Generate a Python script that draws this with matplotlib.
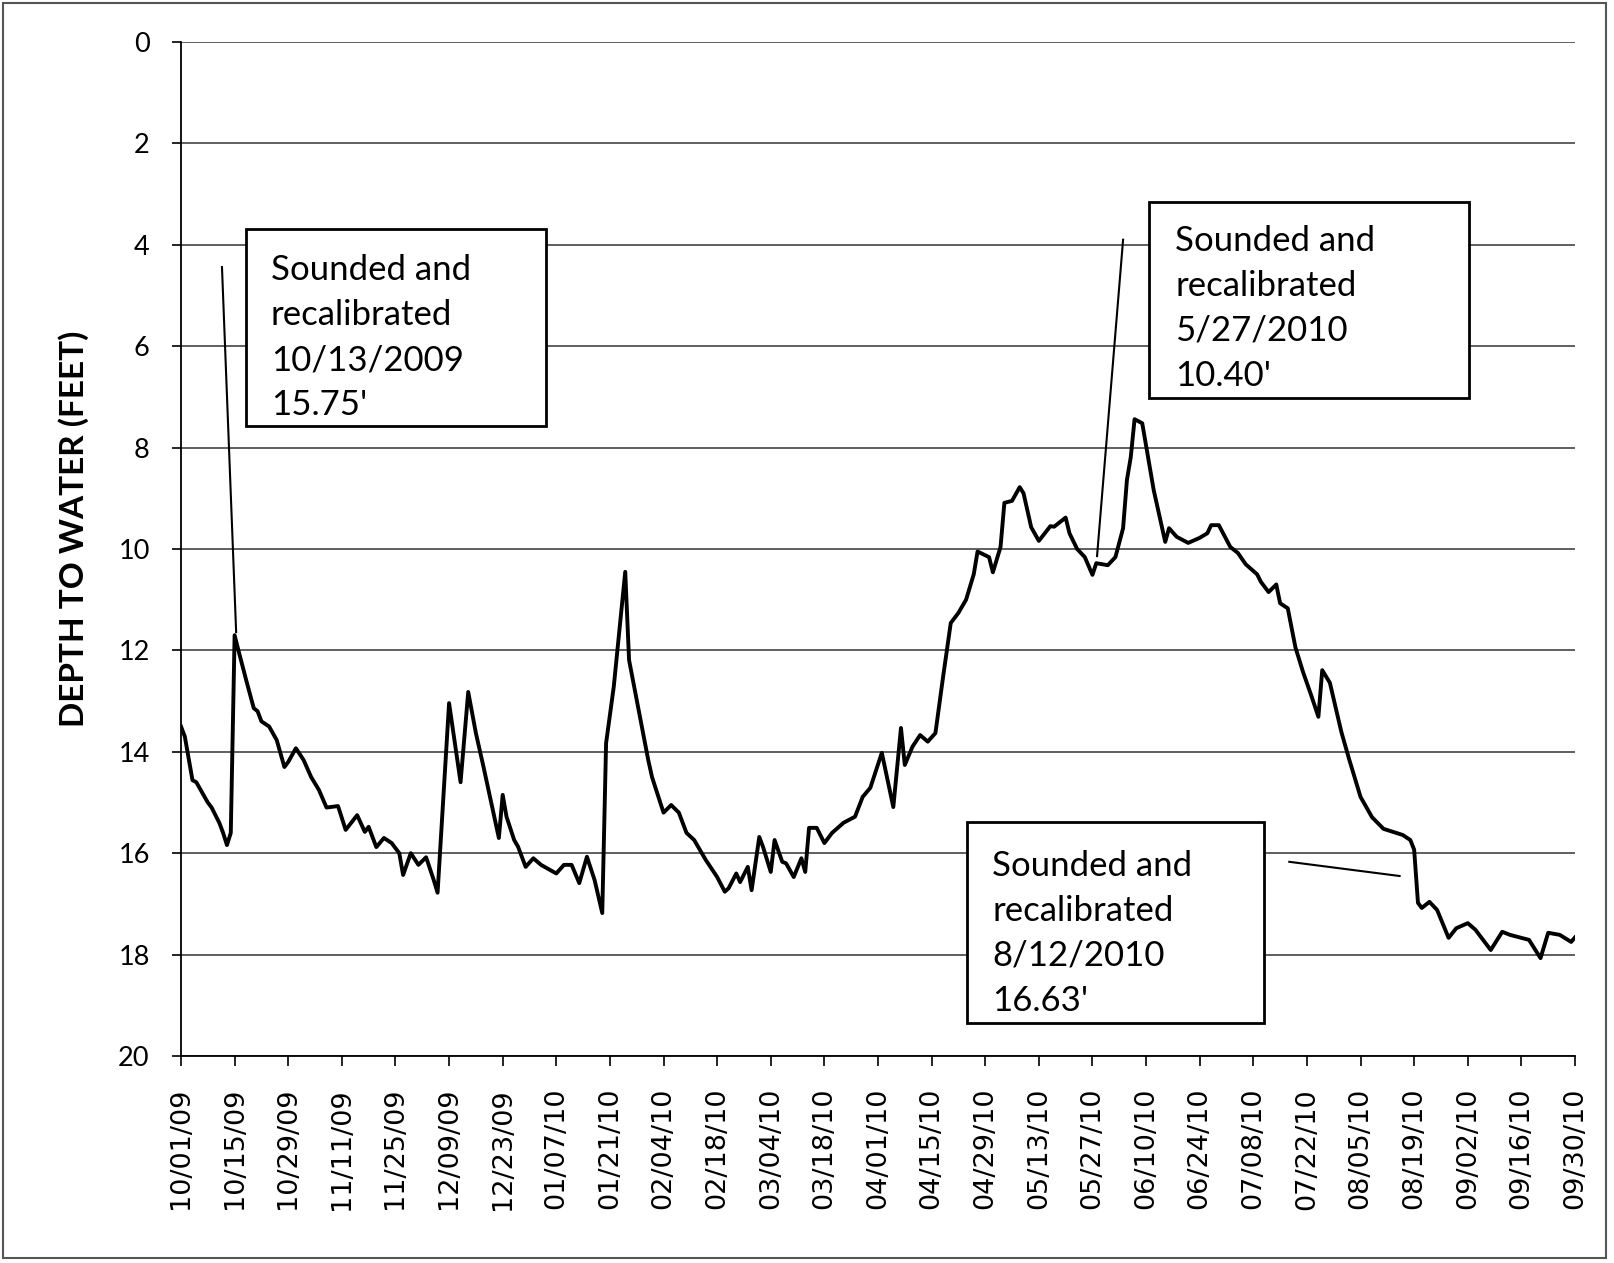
import matplotlib
matplotlib.use("Agg")
import matplotlib.pyplot as plt
from matplotlib.patches import Rectangle
import numpy as np

# sample number (one per day, tick label every 14 samples) and depth to water (ft)
sample_idx = [0, 1, 3, 4, 7, 8, 10, 11, 12, 13, 14, 15, 17, 19, 20, 21, 23, 25, 27, 28,
              30, 32, 34, 36, 38, 41, 43, 46, 48, 49, 51, 53, 55, 57, 58, 60, 62, 64, 66, 67,
              70, 73, 75, 77, 79, 83, 84, 85, 87, 88, 90, 92, 94, 98, 100, 102, 104, 106, 108, 110,
              111, 113, 116, 117, 119, 122, 123, 126, 128, 130, 132, 134, 137, 140, 142, 143, 145, 146, 148, 149,
              151, 152, 154, 155, 157, 158, 160, 162, 163, 164, 166, 168, 170, 173, 176, 178, 180, 183, 186, 188,
              189, 191, 193, 195, 197, 199, 201, 203, 205, 207, 208, 211, 212, 214, 215, 217, 219, 220, 222, 224,
              227, 228, 231, 232, 234, 236, 238, 239, 242, 244, 246, 247, 248, 249, 251, 254, 257, 258, 260, 263,
              266, 268, 269, 271, 274, 276, 278, 281, 282, 284, 286, 287, 289, 291, 293, 295, 297, 298, 300, 303,
              305, 308, 311, 314, 319, 321, 322, 323, 324, 326, 328, 331, 333, 336, 338, 342, 345, 347, 352, 355,
              357, 360, 363, 364]
depth = [13.5, 13.7, 14.56, 14.6, 15.0, 15.1, 15.4, 15.6, 15.84, 15.6, 11.7, 12.0, 12.58, 13.14, 13.2, 13.4, 13.5, 13.77, 14.3, 14.2,
         13.93, 14.16, 14.5, 14.75, 15.1, 15.07, 15.54, 15.25, 15.58, 15.48, 15.88, 15.7, 15.8, 16.0, 16.43, 16.0, 16.23, 16.08, 16.53, 16.78,
         13.04, 14.6, 12.82, 13.63, 14.3, 15.7, 14.85, 15.28, 15.74, 15.87, 16.27, 16.1, 16.23, 16.4, 16.23, 16.23, 16.59, 16.07, 16.53, 17.18,
         13.83, 12.72, 10.45, 12.19, 12.98, 14.16, 14.5, 15.2, 15.05, 15.2, 15.6, 15.74, 16.13, 16.47, 16.76, 16.69, 16.4, 16.57, 16.27, 16.73,
         15.68, 15.88, 16.37, 15.74, 16.17, 16.2, 16.47, 16.1, 16.37, 15.5, 15.5, 15.8, 15.6, 15.4, 15.28, 14.89, 14.71, 14.02, 15.09, 13.53,
         14.26, 13.9, 13.67, 13.8, 13.63, 12.52, 11.46, 11.26, 11.0, 10.5, 10.05, 10.16, 10.46, 9.96, 9.09, 9.05, 8.78, 8.9, 9.57, 9.84,
         9.55, 9.56, 9.38, 9.69, 10.0, 10.16, 10.51, 10.28, 10.32, 10.16, 9.59, 8.64, 8.19, 7.44, 7.52, 8.84, 9.86, 9.59, 9.76, 9.88,
         9.78, 9.69, 9.53, 9.53, 9.96, 10.08, 10.3, 10.5, 10.65, 10.85, 10.7, 11.07, 11.17, 11.94, 12.43, 12.86, 13.31, 12.39, 12.64, 13.61,
         14.14, 14.89, 15.29, 15.52, 15.64, 15.74, 15.93, 16.98, 17.08, 16.96, 17.12, 17.67, 17.48, 17.38, 17.51, 17.91, 17.55, 17.61, 17.71, 18.07,
         17.57, 17.61, 17.75, 17.66]

tick_labels = ["10/01/09", "10/15/09", "10/29/09", "11/11/09", "11/25/09", "12/09/09", "12/23/09",
               "01/07/10", "01/21/10", "02/04/10", "02/18/10", "03/04/10", "03/18/10", "04/01/10",
               "04/15/10", "04/29/10", "05/13/10", "05/27/10", "06/10/10", "06/24/10", "07/08/10",
               "07/22/10", "08/05/10", "08/19/10", "09/02/10", "09/16/10", "09/30/10"]

# callout boxes: text, box (left, right, top, bottom) in sample/depth units, leader line ends
notes = ["Sounded and\nrecalibrated\n10/13/2009\n15.75'",
         "Sounded and\nrecalibrated\n5/27/2010\n10.40'",
         "Sounded and\nrecalibrated\n8/12/2010\n16.63'"]
note_boxes = [(17.0, 95.2, 3.69, 7.57), (252.8, 336.2, 3.16, 7.02), (205.2, 282.9, 15.38, 19.35)]
note_text_x = [23.5, 259.6, 211.8]
note_text_y = [5.83, 5.25, 17.58]
leaders = [((10.7, 14.4), (4.44, 11.64)), ((246.0, 239.2), (3.9, 10.14)), ((289.4, 318.2), (16.17, 16.45))]

fig = plt.figure(figsize=(16.14, 12.63), dpi=100)
ax = fig.add_axes([0.11214, 0.16390, 0.86369, 0.80285])

ax.plot(sample_idx, depth, color="black", lw=2.8, solid_joinstyle="round", zorder=3)

for (lx, ly) in leaders:
    ax.plot(lx, ly, color="black", lw=1.5, zorder=4)

for txt, (l, r, t, b), tx, ty in zip(notes, note_boxes, note_text_x, note_text_y):
    ax.add_patch(Rectangle((l, t), r - l, b - t, facecolor="white", edgecolor="black",
                           lw=2.0, zorder=5))
    ax.text(tx, ty, txt, fontsize=25, family="Lato", va="center", ha="left",
            linespacing=1.5, zorder=6)

ax.set_xlim(0, 364)
ax.set_ylim(20, 0)
ax.set_yticks(np.arange(0, 21, 2))
ax.set_xticks(np.arange(0, 365, 14))
ax.set_xticklabels(tick_labels, rotation=90, fontsize=19.5, family="DejaVu Sans")
for lab in ax.get_yticklabels():
    lab.set_family("Lato")
    lab.set_fontsize(19.5)

ax.grid(axis="y", color="#444444", lw=1.2)
ax.set_axisbelow(True)
for s in ["top", "right"]:
    ax.spines[s].set_visible(False)
for s in ["left", "bottom"]:
    ax.spines[s].set_linewidth(1.3)
ax.tick_params(axis="y", length=6.5, width=1.2, pad=16)
ax.tick_params(axis="x", length=7, width=1.2, pad=16)

ax.set_ylabel("DEPTH TO WATER (FEET)", fontsize=24, fontweight="bold", family="Lato")
ax.yaxis.set_label_coords(-0.066, 0.52)

fig.patches.append(Rectangle((0.002, 0.004), 0.993, 0.994, transform=fig.transFigure,
                             fill=False, edgecolor="#555555", lw=1.5))

fig.savefig("out.png", dpi=100)
